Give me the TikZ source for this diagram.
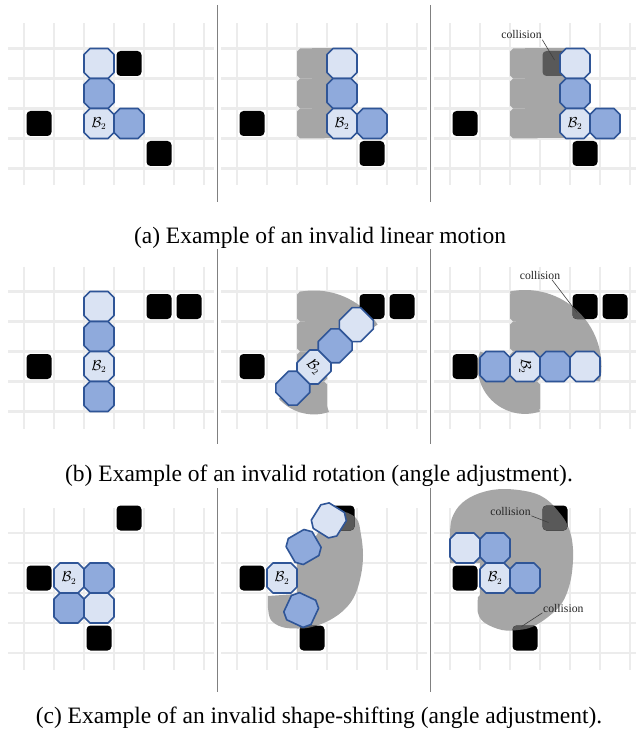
\documentclass[tikz,border=0pt]{standalone}
\usepackage{fontspec}
\setmainfont{Liberation Serif}
\definecolor{gridc}{RGB}{236,236,236}
\definecolor{sepc}{RGB}{128,128,128}
\definecolor{lblue}{RGB}{218,227,243}
\definecolor{mblue}{RGB}{143,170,220}
\definecolor{bbord}{RGB}{47,85,151}
\definecolor{swept}{RGB}{166,166,166}
\definecolor{hit}{RGB}{89,89,89}
\tikzset{cellpic/.pic={\path[pic actions] (-15,-9) -- (-9,-15) -- (9,-15) -- (15,-9) -- (15,9) -- (9,15) -- (-9,15) -- (-15,9) -- cycle;},
  gpic/.pic={\path[pic actions] (-15,-12) -- (-12,-15) -- (12,-15) -- (15,-12) -- (15,12) -- (12,15) -- (-12,15) -- (-15,12) -- cycle;}}
\newcommand\gridpanel[2]{%
  \foreach \i in {0,...,6}{\draw[gl] ({#1+30*\i},{#2-25}) -- ({#1+30*\i},{#2+137});}
  \foreach \j in {0,...,4}{\draw[gl] ({#1-16},{#2+30*\j}) -- ({#1+190},{#2+30*\j});}
}
\newcommand\obst[2]{\fill[black, rounded corners=4pt] ({#1-12.5},{#2-12.5}) rectangle ({#1+12.5},{#2+12.5});}
\newcommand\hitsq[2]{\fill[hit, rounded corners=4pt] ({#1-12.5},{#2-12.5}) rectangle ({#1+12.5},{#2+12.5});}
\def\blobB{(297,594) -- (297,564) -- plot[smooth, tension=0.6] coordinates {(320,530) (338,512) (356,518) (361,535) (363,555) (361,575) (355,595) (345,609) (330,620) (312,627) (298,628.5) (282,627) (271,620) (268,608) (268,596)} -- cycle}
\def\blobC{(480,595) -- (480,563) -- (450,563) -- plot[smooth, tension=0.6] coordinates {(450,535) (452,518) (462,503) (480,493) (503,489) (530,492) (546,499) (558,511) (567,524) (572,540) (573,560) (570,583) (562,603) (548,617) (532,627) (518,630) (502,630) (485,623) (478,613) (478,597)} -- cycle}
\begin{document}
\begin{tikzpicture}[x=1pt,y=-1pt,
  gl/.style={draw=gridc, line width=2.2pt},
  sepl/.style={draw=sepc, line width=0.8pt},
  lcell/.style={draw=bbord, line width=1.6pt, fill=lblue, line join=round},
  mcell/.style={draw=bbord, line width=1.6pt, fill=mblue, line join=round},
  gcell/.style={fill=swept},
  btxt/.style={font=\fontsize{13.5}{15}\selectfont, inner sep=0pt},
  captxt/.style={font=\fontsize{23.5}{28}\selectfont, inner sep=0pt, anchor=base},
  coll/.style={font=\fontsize{11.7}{14}\selectfont, inner sep=0.5pt, text=black!85},
  cline/.style={draw=black!75, line width=0.6pt},
]
\useasboundingbox[fill=white] (0,0) rectangle (636,735);
% grids
\gridpanel{24}{48.5}\gridpanel{237}{48.5}\gridpanel{450}{48.5}
\gridpanel{24}{291.5}\gridpanel{237}{291.5}\gridpanel{450}{291.5}
\gridpanel{24}{533}\gridpanel{237}{533}\gridpanel{450}{533}
% separators
\draw[sepl] (217.5,5) -- (217.5,202); \draw[sepl] (430.5,5) -- (430.5,202);
\draw[sepl] (217.5,249) -- (217.5,444); \draw[sepl] (430.5,249) -- (430.5,444);
\draw[sepl] (217.5,488) -- (217.5,692); \draw[sepl] (430.5,488) -- (430.5,692);

% ===== Row 1 =====
% panel 1
\obst{129}{63.5}\obst{39}{123.5}\obst{159}{153.5}
\pic[lcell] at (99,63.5) {cellpic};
\pic[mcell] at (99,93.5) {cellpic};
\pic[lcell] at (99,123.5) {cellpic};
\pic[mcell] at (129,123.5) {cellpic};
\node[btxt] (b2a) at (99,123.5) {$\mathcal{B}_2$};
% panel 2
\foreach \yy in {63.5,93.5,123.5}{\pic[gcell] at (312,\yy) {gpic};}
\fill[swept] (312,48.5) rectangle (342,138.5);
\obst{252}{123.5}\obst{372}{153.5}
\pic[lcell] at (342,63.5) {cellpic};
\pic[mcell] at (342,93.5) {cellpic};
\pic[lcell] at (342,123.5) {cellpic};
\pic[mcell] at (372,123.5) {cellpic};
\node[btxt] (b2b) at (342,123.5) {$\mathcal{B}_2$};
% panel 3
\foreach \yy in {63.5,93.5,123.5}{\pic[gcell] at (525,\yy) {gpic};}
\fill[swept] (525,48.5) rectangle (575,138.5);
\hitsq{555}{63.5}
\obst{465}{123.5}\obst{585}{153.5}
\pic[lcell] at (575,63.5) {cellpic};
\pic[mcell] at (575,93.5) {cellpic};
\pic[lcell] at (575,123.5) {cellpic};
\pic[mcell] at (605,123.5) {cellpic};
\node[btxt] (b2c) at (575,123.5) {$\mathcal{B}_2$};
\node[coll] (k1) at (521.5,35) {collision};
\coordinate (k1e) at (554.5,60);
\draw[cline] (k1.south east) -- (k1e);
\node[captxt] (capa) at (320,243) {(a) Example of an invalid linear motion};

% ===== Row 2 =====
% panel 1
\obst{39}{366.5}\obst{159}{306.5}\obst{189}{306.5}
\pic[lcell] at (99,306.5) {cellpic};
\pic[mcell] at (99,336.5) {cellpic};
\pic[lcell] at (99,366.5) {cellpic};
\pic[mcell] at (99,396.5) {cellpic};
\node[btxt] (b2d) at (99,366.5) {$\mathcal{B}_2$};
% panel 2
\foreach \yy in {306.5,336.5,366.5,396.5}{\pic[gcell] at (312,\yy) {gpic};}
\fill[swept] (314,367) -- plot[domain=-101.3:-33.7, samples=40] ({314+76.5*cos(\x)},{367+76.5*sin(\x)}) -- cycle;
\fill[swept] (314,367) -- plot[domain=71.6:138, samples=30] ({314+47.4*cos(\x)},{367+47.4*sin(\x)}) -- cycle;
\obst{252}{366.5}\obst{372}{306.5}\obst{402}{306.5}
\pic[mcell, rotate=45] at (292.8,388.2) {cellpic};
\pic[lcell, rotate=45] at (314,367) {cellpic};
\pic[mcell, rotate=45] at (335.2,345.8) {cellpic};
\pic[lcell, rotate=45] at (356.4,324.6) {cellpic};
\node[btxt, rotate=-45] (b2e) at (314,367) {$\mathcal{B}_2$};
% panel 3
\foreach \yy in {306.5,336.5,366.5,396.5}{\pic[gcell] at (525,\yy) {gpic};}
\fill[swept] (525,366.5) -- plot[domain=-101.3:11.3, samples=50] ({525+76.5*cos(\x)},{366.5+76.5*sin(\x)}) -- cycle;
\fill[swept] (525,366.5) -- plot[domain=71.6:198.4, samples=50] ({525+47.4*cos(\x)},{366.5+47.4*sin(\x)}) -- cycle;
\obst{465}{366.5}\obst{585}{306.5}\obst{615}{306.5}
\begin{scope}
  \clip (525,366.5) -- plot[domain=-101.3:11.3, samples=50] ({525+76.5*cos(\x)},{366.5+76.5*sin(\x)}) -- cycle;
  \hitsq{585}{306.5}
\end{scope}
\pic[mcell] at (495,366.5) {cellpic};
\pic[lcell] at (525,366.5) {cellpic};
\pic[mcell] at (555,366.5) {cellpic};
\pic[lcell] at (585,366.5) {cellpic};
\node[btxt, rotate=-90] (b2f) at (525,366.5) {$\mathcal{B}_2$};
\node[coll] (k2) at (540,275) {collision};
\coordinate (k2e) at (577,312.5);
\draw[cline] ([xshift=12pt]k2.south) -- (k2e);
\node[captxt] (capb) at (319,481) {(b) Example of an invalid rotation (angle adjustment).};

% ===== Row 3 =====
% panel 1
\obst{39}{578}\obst{129}{518}\obst{99}{638}
\pic[lcell] at (69,578) {cellpic};
\pic[mcell] at (99,578) {cellpic};
\pic[mcell] at (69,608) {cellpic};
\pic[lcell] at (99,608) {cellpic};
\node[btxt] (b2g) at (69,578) {$\mathcal{B}_2$};
% panel 2
\fill[swept] \blobB;
\obst{252}{578}\obst{342}{518}\obst{312}{638}
\begin{scope}
  \clip \blobB;
  \hitsq{342}{518}\hitsq{312}{638}
\end{scope}
\pic[mcell, rotate=-25] at (301.2,610) {cellpic};
\pic[lcell, rotate=58] at (328.8,520.4) {cellpic};
\pic[mcell, rotate=30] at (303.6,547) {cellpic};
\pic[lcell] at (282,578) {cellpic};
\node[btxt] (b2h) at (282,578) {$\mathcal{B}_2$};
% panel 3
\fill[swept] \blobC;
\obst{465}{578}\obst{555}{518}\obst{525}{638}
\begin{scope}
  \clip \blobC;
  \hitsq{555}{518}\hitsq{525}{638}
\end{scope}
\pic[lcell] at (465,548) {cellpic};
\pic[mcell] at (495,548) {cellpic};
\pic[lcell] at (495,578) {cellpic};
\pic[mcell] at (525,578) {cellpic};
\node[btxt] (b2i) at (495,578) {$\mathcal{B}_2$};
\node[coll] (k3) at (510.5,511) {collision};
\coordinate (k3e) at (548.5,522.5);
\draw[cline] (k3.south east) -- (k3e);
\node[coll] (k4) at (563.3,608) {collision};
\coordinate (k4e) at (521.5,626.5);
\draw[cline] (k4.south west) -- (k4e);
\node[captxt] (capc) at (319,723) {(c) Example of an invalid shape-shifting (angle adjustment).};
\end{tikzpicture}
\end{document}
